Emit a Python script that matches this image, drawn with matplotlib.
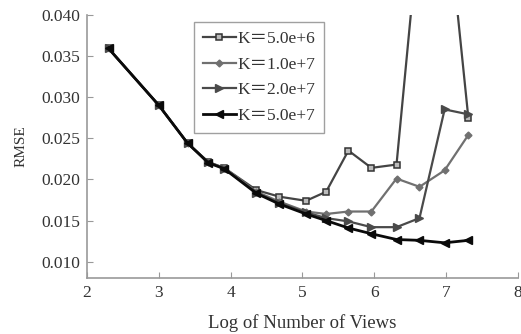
import numpy as np
import matplotlib
matplotlib.use('Agg')
import matplotlib.pyplot as plt

# log of number of views (x positions of the samples)
log_views = [2.30, 3.00, 3.40, 3.69, 3.91, 4.36, 4.68, 5.05, 5.33, 5.64,
             5.96, 6.31, 6.63, 6.98, 7.31]

# RMSE for each K
rmse_k5e6 = [0.0359, 0.0290, 0.0244, 0.0221, 0.0214, 0.0187, 0.0179, 0.0174,
             0.0185, 0.0235, 0.0214, 0.0218, 0.0511, 0.0556, 0.0275]
rmse_k1e7 = [0.0359, 0.0290, 0.0244, 0.0221, 0.0214, 0.0185, 0.0173, 0.0161,
             0.0158, 0.0161, 0.0161, 0.0201, 0.0191, 0.0211, 0.0254]
rmse_k2e7 = [0.0359, 0.0290, 0.0244, 0.0221, 0.0213, 0.0184, 0.0171, 0.0160,
             0.0153, 0.0149, 0.0142, 0.0142, 0.0153, 0.0285, 0.0279]
rmse_k5e7 = [0.0359, 0.0290, 0.0244, 0.0220, 0.0213, 0.0183, 0.0170, 0.0158,
             0.0150, 0.0141, 0.0134, 0.0127, 0.0126, 0.0123, 0.0126]

labels = ['K\uff1d5.0e+6', 'K\uff1d1.0e+7', 'K\uff1d2.0e+7', 'K\uff1d5.0e+7']

plt.rcParams['font.family'] = ['Liberation Serif', 'Noto Sans CJK SC']

fig = plt.figure(figsize=(5.21, 3.34), dpi=100)
ax = fig.add_axes([0.167, 0.167, 0.827, 0.789])

ax.plot(log_views, rmse_k5e6, color='#444444', lw=1.6, marker='s', ms=3.8,
        mfc='#bbbbbb', mec='#333333', mew=1.1, label=labels[0])
ax.plot(log_views, rmse_k1e7, color='#707070', lw=1.6, marker='D', ms=3.5,
        mfc='#707070', mec='#707070', label=labels[1])
ax.plot(log_views, rmse_k2e7, color='#4a4a4a', lw=1.6, marker='>', ms=5.5,
        mfc='#4a4a4a', mec='#4a4a4a', label=labels[2])
ax.plot(log_views, rmse_k5e7, color='#0a0a0a', lw=2.0, marker='<', ms=5.5,
        mfc='#0a0a0a', mec='#0a0a0a', label=labels[3])

ax.set_xlim(2, 8)
ax.set_ylim(0.008, 0.040)
ax.set_xticks([2, 3, 4, 5, 6, 7, 8])
ax.set_yticks([0.010, 0.015, 0.020, 0.025, 0.030, 0.035, 0.040])
ax.set_yticklabels(['%.3f' % v for v in ax.get_yticks()])

for side in ['top', 'right']:
    ax.spines[side].set_visible(False)
for side in ['left', 'bottom']:
    ax.spines[side].set_color('#999999')
    ax.spines[side].set_linewidth(1.2)
ax.tick_params(direction='in', length=4, color='#999999', labelsize=12.5,
               labelcolor='#333333', pad=5)

ax.set_xlabel('Log of Number of Views', fontsize=13.5, color='#333333',
              labelpad=9)
ax.set_ylabel('RMSE', fontsize=11, color='#333333', labelpad=10)

leg = ax.legend(loc='upper left', bbox_to_anchor=(0.248, 0.972), fontsize=12.5,
                frameon=True, fancybox=False, handlelength=1.9,
                handletextpad=0.1, borderpad=0.5, labelspacing=0.55,
                borderaxespad=0, labelcolor='#333333')
leg.get_frame().set_edgecolor('#888888')
leg.get_frame().set_linewidth(1.0)

fig.savefig('out.png', dpi=100)
